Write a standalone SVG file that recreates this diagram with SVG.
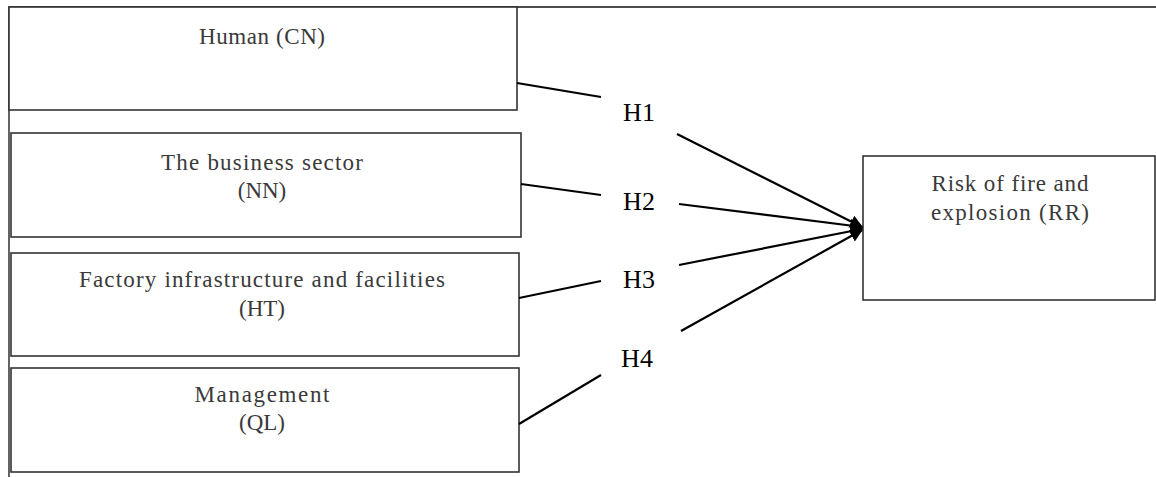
<svg xmlns="http://www.w3.org/2000/svg" width="1156" height="477" viewBox="0 0 1156 477">
<style>
.box{fill:#fff;stroke:#333;stroke-width:1.6}
.frame{fill:none;stroke:#111;stroke-width:1.3}
.t{font-family:"Liberation Serif","DejaVu Serif",serif;font-size:23px;fill:#3a3a3a;text-anchor:middle}
.h{font-family:"Liberation Serif","DejaVu Serif",serif;font-size:26px;fill:#000;text-anchor:middle}
.c{stroke:#000;stroke-width:2.2;fill:none}
</style>
<defs>
<marker id="arr" viewBox="0 0 10 10" refX="9" refY="5" markerWidth="6" markerHeight="6" orient="auto" markerUnits="strokeWidth">
<path d="M0,0 L10,5 L0,10 z" fill="#000"/>
</marker>
</defs>
<rect width="1156" height="477" fill="#fff"/>
<path class="frame" d="M9,477 V7 H1156"/>
<g id="human">
<rect class="box" x="9" y="7" width="508" height="103"/>
<text class="t" x="262" y="44" textLength="126">Human (CN)</text>
</g>
<g id="business">
<rect class="box" x="11" y="133" width="510" height="104"/>
<text class="t" x="262" y="170" textLength="202">The business sector</text>
<text class="t" x="262" y="198">(NN)</text>
</g>
<g id="factory">
<rect class="box" x="11" y="253" width="508" height="103"/>
<text class="t" x="262" y="287" textLength="366">Factory infrastructure and facilities</text>
<text class="t" x="262" y="316">(HT)</text>
</g>
<g id="management">
<rect class="box" x="11" y="368" width="508" height="104"/>
<text class="t" x="262" y="402" textLength="135">Management</text>
<text class="t" x="262" y="430">(QL)</text>
</g>
<g id="risk">
<rect class="box" x="863" y="156" width="292" height="144"/>
<text class="t" x="1010" y="191" textLength="157">Risk of fire and</text>
<text class="t" x="1010" y="220" textLength="158">explosion (RR)</text>
</g>
<g id="connectors">
<line class="c" x1="517" y1="83" x2="601" y2="97"/>
<line class="c" x1="521" y1="184" x2="601" y2="195"/>
<line class="c" x1="519" y1="298" x2="601" y2="281"/>
<line class="c" x1="519" y1="424" x2="601" y2="375"/>
<line class="c" x1="677" y1="134" x2="862" y2="227" marker-end="url(#arr)"/>
<line class="c" x1="679" y1="204" x2="862" y2="227" marker-end="url(#arr)"/>
<line class="c" x1="679" y1="265" x2="862" y2="229" marker-end="url(#arr)"/>
<line class="c" x1="681" y1="331" x2="862" y2="230" marker-end="url(#arr)"/>
</g>
<g id="labels">
<text class="h" x="639" y="121">H1</text>
<text class="h" x="639" y="210">H2</text>
<text class="h" x="639" y="288">H3</text>
<text class="h" x="637" y="367">H4</text>
</g>
</svg>
